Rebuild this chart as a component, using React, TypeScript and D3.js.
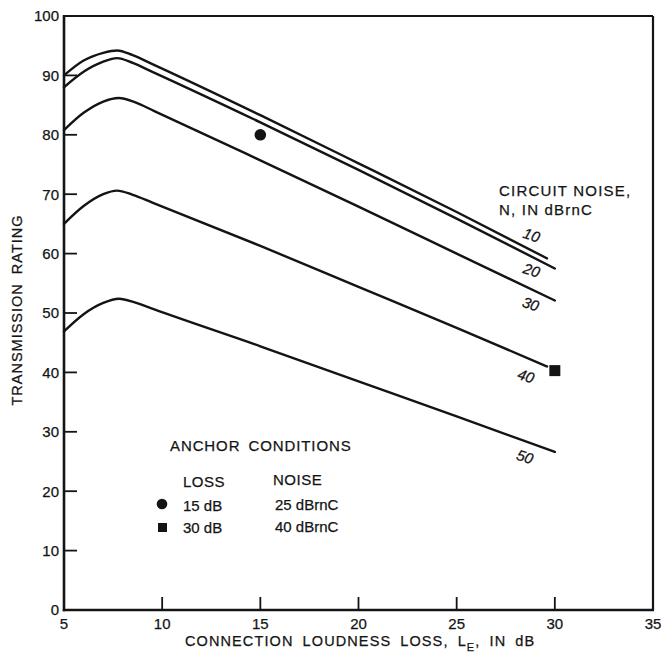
import React from "react";
import * as d3 from "d3";

const W = 661;
const H = 657;

// Connection loudness loss (dB) sample points per curve
const xPts10 = [5, 6, 7, 7.7, 8.5, 9.5, 15, 20, 25, 29.6];
const xPts20 = [5, 6, 7, 7.7, 8.5, 9.5, 15, 20, 25, 30];
const xPts30 = [5, 6, 7, 7.8, 8.6, 9.6, 15, 20, 25, 30];
const xPts40 = [5, 6, 7, 7.7, 8.5, 9.5, 15, 20, 25, 29.6];
const xPts50 = [5, 6, 7, 7.8, 8.6, 9.6, 15, 20, 25, 30];

// Transmission rating for each circuit noise level
const tr10 = [90.0, 92.5, 93.8, 94.2, 93.4, 91.9, 83.3, 75.2, 67.0, 59.2];
const tr20 = [88.0, 90.6, 92.3, 92.9, 92.1, 90.6, 82.1, 74.1, 65.9, 57.5];
const tr30 = [80.8, 83.7, 85.6, 86.2, 85.5, 84.0, 75.7, 67.9, 60.0, 52.1];
const tr40 = [65.0, 68.0, 70.0, 70.6, 69.9, 68.6, 61.3, 54.4, 47.5, 41.0];
const tr50 = [46.9, 49.8, 51.7, 52.4, 51.8, 50.6, 44.4, 38.5, 32.6, 26.6];

const noiseLabels = ["10", "20", "30", "40", "50"];

// Anchor conditions
const anchorLoss = [15, 30];
const anchorRating = [80, 40.3];

const xTicks = [5, 10, 15, 20, 25, 30, 35];
const yTicks = [0, 10, 20, 30, 40, 50, 60, 70, 80, 90, 100];

const FONT = "'Liberation Sans', Arial, Helvetica, sans-serif";
const INK = "#141414";

export default function App() {
  const x = d3.scaleLinear().domain([5, 35]).range([64, 653]);
  const y = d3.scaleLinear().domain([0, 100]).range([610, 16]);

  const line = d3
    .line<[number, number]>()
    .x((d) => x(d[0]))
    .y((d) => y(d[1]))
    .curve(d3.curveMonotoneX);

  const series = [
    { xs: xPts10, ys: tr10 },
    { xs: xPts20, ys: tr20 },
    { xs: xPts30, ys: tr30 },
    { xs: xPts40, ys: tr40 },
    { xs: xPts50, ys: tr50 },
  ];

  // label anchors (data coordinates) near the end of each curve
  const labelPos: [number, number][] = [
    [28.82, 63.1],
    [28.82, 57.2],
    [28.77, 51.5],
    [28.53, 39.4],
    [28.48, 25.8],
  ];

  const [x0, x1] = x.range();
  const [y0, y1] = y.range();

  const textStyle = { stroke: INK, strokeWidth: 0.25 } as React.CSSProperties;

  return (
    <svg
      width={W}
      height={H}
      style={{ position: "absolute", left: 0, top: 0, background: "#fff" }}
      fontFamily={FONT}
    >
      <rect x={0} y={0} width={W} height={H} fill="#fff" />

      {/* frame */}
      <line x1={x0} y1={y1} x2={x1} y2={y1} stroke={INK} strokeWidth={2.2} />
      <line x1={x1} y1={y1} x2={x1} y2={y0} stroke={INK} strokeWidth={2.2} />
      <line x1={x0} y1={y1 - 1} x2={x0} y2={y0 + 1.2} stroke={INK} strokeWidth={2.6} />
      <line x1={x0 - 1.2} y1={y0} x2={x1 + 1} y2={y0} stroke={INK} strokeWidth={2.6} />

      {/* y ticks */}
      {yTicks.map((t) => (
        <g key={"y" + t}>
          {t > 0 && t < 100 && (
            <line x1={x0} x2={x0 + 13} y1={y(t)} y2={y(t)} stroke={INK} strokeWidth={1.8} />
          )}
          <text
            x={59}
            y={y(t)}
            dy="0.36em"
            textAnchor="end"
            fontSize={15}
            fill={INK}
            style={textStyle}
          >
            {t}
          </text>
        </g>
      ))}

      {/* x ticks */}
      {xTicks.map((t) => (
        <g key={"x" + t}>
          {t > 5 && t < 35 && (
            <line x1={x(t)} x2={x(t)} y1={y0} y2={y0 - 13} stroke={INK} strokeWidth={1.8} />
          )}
          <text x={x(t)} y={629} textAnchor="middle" fontSize={15} fill={INK} style={textStyle}>
            {t}
          </text>
        </g>
      ))}

      {/* curves */}
      {series.map((s, i) => (
        <path
          key={"c" + i}
          d={line(s.xs.map((v, j) => [v, s.ys[j]] as [number, number])) || ""}
          fill="none"
          stroke={INK}
          strokeWidth={2.4}
          strokeLinecap="round"
        />
      ))}

      {/* curve labels */}
      {noiseLabels.map((lab, i) => (
        <text
          key={"l" + i}
          transform={`translate(${x(labelPos[i][0])},${y(labelPos[i][1])}) rotate(18)`}
          textAnchor="middle"
          fontSize={15}
          fontStyle="italic"
          fill={INK}
          dy="0.35em"
          style={textStyle}
        >
          {lab}
        </text>
      ))}

      {/* anchor points */}
      <circle cx={x(anchorLoss[0])} cy={y(anchorRating[0])} r={5.8} fill={INK} />
      <rect
        x={x(anchorLoss[1]) - 5.5}
        y={y(anchorRating[1]) - 5.5}
        width={11}
        height={11}
        fill={INK}
      />

      {/* circuit noise title */}
      <text x={499} y={196} fontSize={15} letterSpacing={1.2} fill={INK} style={textStyle}>
        CIRCUIT NOISE,
      </text>
      <text x={499} y={215} fontSize={15} letterSpacing={1.2} fill={INK} style={textStyle}>
        N, IN dBrnC
      </text>

      {/* anchor legend */}
      <text x={170} y={451} fontSize={15} letterSpacing={0.9} wordSpacing={3} fill={INK} style={textStyle}>
        ANCHOR CONDITIONS
      </text>
      <text x={183} y={487} fontSize={15} letterSpacing={0.5} fill={INK} style={textStyle}>
        LOSS
      </text>
      <text x={273} y={485} fontSize={15} letterSpacing={0.5} fill={INK} style={textStyle}>
        NOISE
      </text>
      <circle cx={162} cy={504} r={5.3} fill={INK} />
      <text x={183} y={511} fontSize={15} fill={INK} style={textStyle}>
        15 dB
      </text>
      <text x={275} y={510} fontSize={15} fill={INK} style={textStyle}>
        25 dBrnC
      </text>
      <rect x={158} y={523} width={9} height={9} fill={INK} />
      <text x={183} y={533} fontSize={15} fill={INK} style={textStyle}>
        30 dB
      </text>
      <text x={275} y={532} fontSize={15} fill={INK} style={textStyle}>
        40 dBrnC
      </text>

      {/* axis titles */}
      <text
        transform="translate(22,310) rotate(-90)"
        textAnchor="middle"
        fontSize={14.5}
        letterSpacing={1}
        wordSpacing={4}
        fill={INK}
        style={textStyle}
      >
        TRANSMISSION RATING
      </text>
      <text
        x={185}
        y={646}
        fontSize={14.5}
        letterSpacing={1.1}
        wordSpacing={4}
        fill={INK}
        style={textStyle}
      >
        CONNECTION LOUDNESS LOSS, L
        <tspan fontSize={11} dy={5}>
          E
        </tspan>
        <tspan dy={-5}>, IN dB</tspan>
      </text>
    </svg>
  );
}
